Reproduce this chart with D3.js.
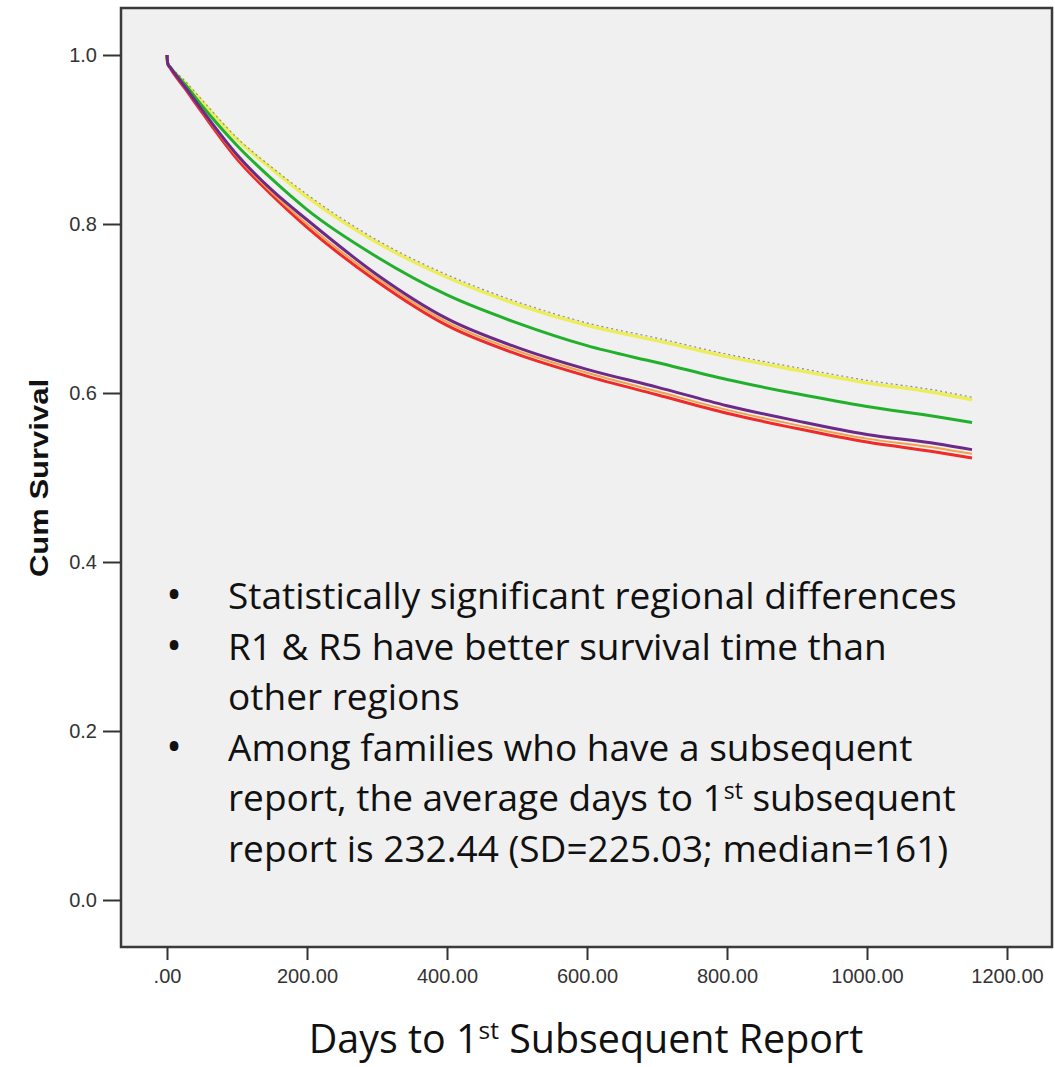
<!DOCTYPE html>
<html><head><meta charset="utf-8">
<script src="https://cdn.jsdelivr.net/npm/d3@7"></script>
<style>body{margin:0;background:#fff}svg{display:block}</style>
</head><body>
<svg id="c" width="1055" height="1067"></svg>
<script>
const days = [0, 1, 5, 25, 50, 100, 150, 200, 300, 400, 500, 600, 700, 800, 900, 1000, 1100, 1150];
const regionNames = ["R1", "R5", "R2", "R3", "R4", "R6"];
const survR1 = [1.0, 0.99, 0.985, 0.968, 0.945, 0.900, 0.865, 0.832, 0.778, 0.737, 0.705, 0.680, 0.662, 0.643, 0.627, 0.612, 0.600, 0.592];
const survR5 = [1.0, 0.99, 0.986, 0.970, 0.947, 0.902, 0.867, 0.835, 0.781, 0.740, 0.708, 0.683, 0.665, 0.646, 0.630, 0.615, 0.603, 0.595];
const survR2 = [1.0, 0.99, 0.985, 0.966, 0.940, 0.893, 0.853, 0.817, 0.761, 0.716, 0.683, 0.656, 0.636, 0.616, 0.599, 0.584, 0.572, 0.565];
const survR3 = [1.0, 0.99, 0.985, 0.963, 0.935, 0.882, 0.840, 0.805, 0.740, 0.688, 0.654, 0.628, 0.607, 0.585, 0.567, 0.551, 0.540, 0.533];
const survR4 = [1.0, 0.99, 0.985, 0.962, 0.934, 0.880, 0.837, 0.800, 0.736, 0.684, 0.650, 0.624, 0.602, 0.580, 0.562, 0.546, 0.535, 0.528];
const survR6 = [1.0, 0.99, 0.984, 0.961, 0.932, 0.877, 0.834, 0.796, 0.732, 0.680, 0.646, 0.620, 0.598, 0.576, 0.558, 0.542, 0.530, 0.523];
const xTicks = [0, 200, 400, 600, 800, 1000, 1200];
const yTicks = [0, 0.2, 0.4, 0.6, 0.8, 1.0];
const bullets = [
  {b: true, t: "Statistically significant regional differences"},
  {b: true, t: "R1 & R5 have better survival time than"},
  {b: false, t: "other regions"},
  {b: true, t: "Among families who have a subsequent"},
  {b: false, t: "report, the average days to 1", sup: "st", rest: " subsequent"},
  {b: false, t: "report is 232.44 (SD=225.03; median=161)"}
];

const svg = d3.select("#c");
const frame = {l: 121, r: 1052, t: 8, b: 947};
const x = d3.scaleLinear().domain([0, 1200]).range([167, 1007]);
const y = d3.scaleLinear().domain([0, 1]).range([900, 55]);

svg.append("rect").attr("x", frame.l).attr("y", frame.t)
  .attr("width", frame.r - frame.l).attr("height", frame.b - frame.t)
  .attr("fill", "#f0f0f0").attr("stroke", "#3a3a3a").attr("stroke-width", 2.5);

const tickFont = "'Liberation Sans', Arial, sans-serif";
const yAxis = svg.append("g").attr("transform", `translate(${frame.l},0)`)
  .call(d3.axisLeft(y).tickValues(yTicks).tickFormat(d3.format(".1f")).tickSize(18).tickPadding(6));
const xAxis = svg.append("g").attr("transform", `translate(0,${frame.b})`)
  .call(d3.axisBottom(x).tickValues(xTicks).tickFormat(d => d === 0 ? ".00" : d3.format(".2f")(d)).tickSize(13).tickPadding(9));
[yAxis, xAxis].forEach(a => {
  a.select(".domain").remove();
  a.selectAll(".tick line").attr("stroke", "#333").attr("stroke-width", 2);
  a.selectAll(".tick text").attr("fill", "#333").style("font-family", tickFont).style("font-size", "20px");
});

svg.append("text").attr("transform", "translate(48,478) rotate(-90)")
  .attr("text-anchor", "middle").style("font-family", "'Liberation Sans Narrow', 'Liberation Sans', sans-serif")
  .style("font-weight", "bold").style("font-size", "26px").attr("fill", "#111")
  .attr("textLength", 198).attr("lengthAdjust", "spacingAndGlyphs").text("Cum Survival");

const series = [
  {v: survR1, c: "#eded5a", w: 3.4},
  {v: survR5, c: "#8a8aa0", w: 1.2, dash: "2,3"},
  {v: survR2, c: "#22b02c", w: 3},
  {v: survR3, c: "#6b2a88", w: 3},
  {v: survR4, c: "#f2a24a", w: 2},
  {v: survR6, c: "#ee2a2a", w: 3}
];
const line = d3.line().x((d, i) => x(days[i])).y(d => y(d)).curve(d3.curveMonotoneX);
const order = [0, 1, 2, 5, 4, 3];
order.forEach(i => {
  const s = series[i];
  svg.append("path").datum(s.v).attr("d", line).attr("fill", "none")
    .attr("stroke", s.c).attr("stroke-width", s.w).attr("stroke-dasharray", s.dash || null)
    .attr("data-name", regionNames[i]);
});

// bullet text, font sized to the reference line width
const bf = "'Open Sans', Lato, sans-serif";
const probe = svg.append("text").style("font-family", bf).style("font-size", "34px").text(bullets[0].t);
const bsize = 34 * 729 / probe.node().getComputedTextLength();
probe.remove();
const tg = svg.append("g").style("font-family", bf).style("font-size", bsize + "px").attr("fill", "#111");
bullets.forEach((b, i) => {
  const yy = 609 + i * 50.6;
  if (b.b) tg.append("text").attr("x", 174).attr("y", yy).attr("text-anchor", "middle")
    .style("font-size", (bsize * 1.12) + "px").text("•");
  const t = tg.append("text").attr("x", 228).attr("y", yy);
  t.append("tspan").text(b.t);
  if (b.sup) {
    t.append("tspan").attr("dy", -12).style("font-size", (bsize * 0.62) + "px").text(b.sup);
    t.append("tspan").attr("dy", 12).text(b.rest);
  }
});

const xt = svg.append("text").attr("x", 586).attr("y", 1053).attr("text-anchor", "middle")
  .style("font-family", bf).style("font-size", (bsize * 1.065) + "px").attr("fill", "#111");
xt.append("tspan").text("Days to 1");
xt.append("tspan").attr("dy", -14).style("font-size", (bsize * 0.66) + "px").text("st");
xt.append("tspan").attr("dy", 14).text(" Subsequent Report");
</script>
</body></html>
